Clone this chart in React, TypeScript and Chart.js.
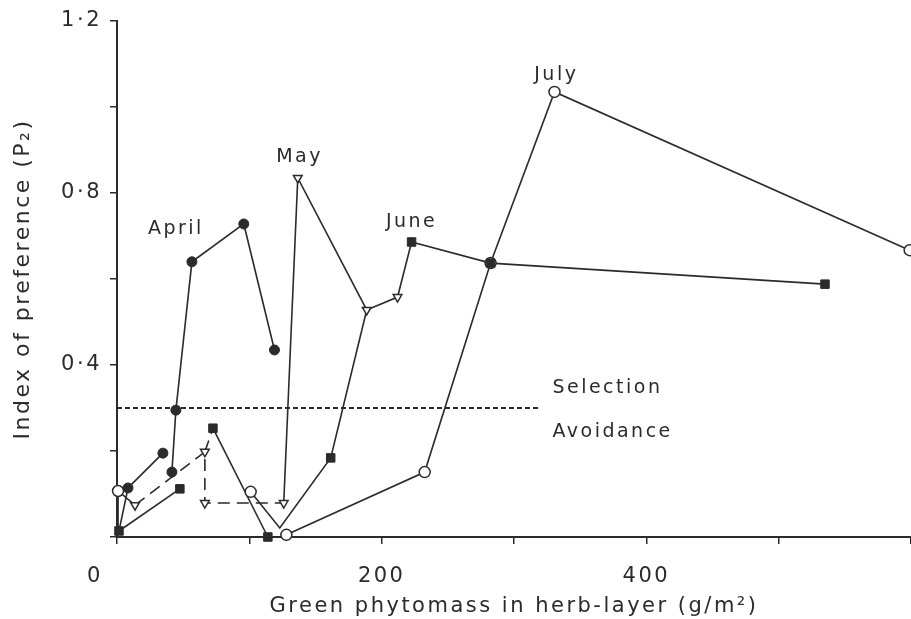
import React, { useEffect, useRef } from 'react';
import { Chart, registerables } from 'chart.js';

Chart.register(...registerables);

// ---- data: [green phytomass g/m2, index of preference P2]
const april: [number, number][] = [[8.3, 0.114], [34.7, 0.195], [41.5, 0.151], [44.5, 0.295], [56.6, 0.64], [95.8, 0.728], [119, 0.435]];
const may: [number, number][] = [[13.6, 0.074], [66.4, 0.198], [66.4, 0.079], [126, 0.079], [136.6, 0.835], [188.7, 0.528], [212, 0.558]];
const june: [number, number][] = [[1.5, 0.014], [47.5, 0.112], [72.5, 0.253], [114, 0.0], [161.5, 0.184], [222.6, 0.686], [282.3, 0.637], [535, 0.588]];
const july: [number, number][] = [[0.8, 0.107], [101, 0.105], [128, 0.005], [232.5, 0.151], [282.3, 0.637], [330.6, 1.035], [599, 0.667]];
const bend: [number, number] = [123, 0.021];

const thresholdY = 0.3;
const thresholdEndX = 320;

const xTickLabels = ['0', '200', '400'];
const yTickLabels = ['0·4', '0·8', '1·2'];
const xTitle = 'Green phytomass in herb-layer (g/m²)';
const yTitle = 'Index of preference (P₂)';
const monthNames = ['April', 'May', 'June', 'July'];
const monthLabelAt: [number, number][] = [[44.5, 0.716], [138, 0.884], [222.6, 0.733], [332, 1.074]];
const zoneNames = ['Selection', 'Avoidance'];
const zoneLabelAt: [number, number][] = [[329, 0.347], [329, 0.244]];

// connections between points (solid and dashed)
const solidPaths: [number, number][][] = [
  [april[1], april[0], june[0], july[0], may[0]],
  [june[0], june[1]],
  [june[2], june[3]],
  [april[2], april[3], april[4], april[5], april[6]],
  [may[3], may[4], may[5], may[6], june[5], june[6], june[7]],
  [july[1], bend, june[4], may[5]],
  [july[2], july[3], july[4], july[5], july[6]],
];
const dashedPaths: [number, number][][] = [
  [may[0], may[1], may[2], may[3]],
  [may[1], june[2]],
];

const INK = '#2b2b2b';
const FONT = 'DejaVu Sans';

const toXY = (p: [number, number][]) => p.map(([x, y]) => ({ x, y }));

export default function App() {
  const ref = useRef<HTMLCanvasElement | null>(null);

  useEffect(() => {
    const canvas = ref.current;
    if (!canvas) return;

    const lineDatasets: any[] = [
      ...solidPaths.map((p) => ({
        data: toXY(p), showLine: true, borderColor: INK, borderWidth: 1.6,
        pointRadius: 0, order: 10, clip: false,
      })),
      ...dashedPaths.map((p) => ({
        data: toXY(p), showLine: true, borderColor: INK, borderWidth: 1.6,
        borderDash: [12, 7], pointRadius: 0, order: 10, clip: false,
      })),
      {
        data: [{ x: 0, y: thresholdY }, { x: thresholdEndX, y: thresholdY }],
        showLine: true, borderColor: INK, borderWidth: 2, borderDash: [5, 3],
        pointRadius: 0, order: 10, clip: false,
      },
    ];

    const markerDatasets: any[] = [
      { data: toXY(july), pointStyle: 'circle', pointRadius: 5.5, pointBackgroundColor: '#fff', pointBorderColor: INK, pointBorderWidth: 1.5, order: 4, clip: false },
      { data: toXY(may), pointStyle: 'triangle', pointRotation: 180, pointRadius: 5, pointBackgroundColor: '#fff', pointBorderColor: INK, pointBorderWidth: 1.5, order: 3, clip: false },
      { data: toXY(april), pointStyle: 'circle', pointRadius: 5, pointBackgroundColor: INK, pointBorderColor: INK, pointBorderWidth: 1, order: 2, clip: false },
      { data: toXY(june), pointStyle: 'rect', pointRadius: 6, pointBackgroundColor: INK, pointBorderColor: INK, pointBorderWidth: 1, order: 1, clip: false },
    ];

    const textPlugin = {
      id: 'texts',
      beforeDraw(chart: any) {
        chart.ctx.letterSpacing = '2.5px';
      },
      afterDraw(chart: any) {
        const { ctx, scales } = chart;
        const xs = scales.x, ys = scales.y;
        ctx.save();
        ctx.letterSpacing = '2.5px';
        ctx.fillStyle = INK;
        ctx.font = `19px "${FONT}"`;
        ctx.textBaseline = 'middle';
        ctx.textAlign = 'center';
        monthNames.forEach((name, i) => {
          const [x, y] = monthLabelAt[i];
          ctx.fillText(name, xs.getPixelForValue(x), ys.getPixelForValue(y));
        });
        ctx.textAlign = 'left';
        zoneNames.forEach((name, i) => {
          const [x, y] = zoneLabelAt[i];
          ctx.fillText(name, xs.getPixelForValue(x), ys.getPixelForValue(y));
        });
        // "0" origin label sits left of the corner
        ctx.font = `21px "${FONT}"`;
        ctx.textAlign = 'center';
        ctx.fillText(xTickLabels[0], xs.getPixelForValue(0) - 22, ys.bottom + 40);
        ctx.restore();
      },
    };

    const chart = new Chart(canvas, {
      type: 'scatter',
      data: { datasets: [...lineDatasets, ...markerDatasets] },
      plugins: [textPlugin],
      options: {
        animation: false,
        responsive: false,
        events: [],
        layout: { autoPadding: false, padding: { top: 21, right: 0, bottom: 0, left: 0 } },
        plugins: { legend: { display: false }, tooltip: { enabled: false } },
        scales: {
          x: {
            type: 'linear', min: 0, max: 600,
            afterFit: (s: any) => { s.height = 82; s.paddingRight = 0; s.paddingLeft = 0; },
            border: { display: true, color: INK, width: 2 },
            grid: { display: true, drawOnChartArea: false, drawTicks: true, tickLength: 7, color: INK, lineWidth: 1.5 },
            ticks: {
              stepSize: 100, padding: 20, color: INK, maxRotation: 0, autoSkip: false,
              font: { family: FONT, size: 21 },
              callback: (v: any) => {
                const s = String(v);
                return s !== xTickLabels[0] && xTickLabels.includes(s) ? s : '';
              },
            },
            title: { display: true, text: xTitle, color: INK, font: { family: FONT, size: 21 }, padding: { top: 0, bottom: 0 } },
          },
          y: {
            type: 'linear', min: 0, max: 1.2,
            afterFit: (s: any) => { s.width = 117; s.paddingTop = 0; s.paddingBottom = 0; },
            border: { display: true, color: INK, width: 2 },
            grid: { display: true, drawOnChartArea: false, drawTicks: true, tickLength: 7, color: INK, lineWidth: 1.5 },
            ticks: {
              stepSize: 0.2, padding: 8, color: INK, autoSkip: false,
              font: { family: FONT, size: 21 },
              callback: (v: any) => {
                const s = (Math.round(Number(v) * 10) / 10).toFixed(1).replace('.', '·');
                return yTickLabels.includes(s) ? s : '';
              },
            },
            title: { display: true, text: yTitle, color: INK, font: { family: FONT, size: 22 }, padding: { top: 10, bottom: 0 } },
          },
        },
      },
    } as any);

    return () => chart.destroy();
  }, []);

  return (
    <div style={{ position: 'fixed', left: 0, top: 0, width: 911, height: 619, background: '#fff' }}>
      <canvas ref={ref} width={911} height={619} />
    </div>
  );
}
